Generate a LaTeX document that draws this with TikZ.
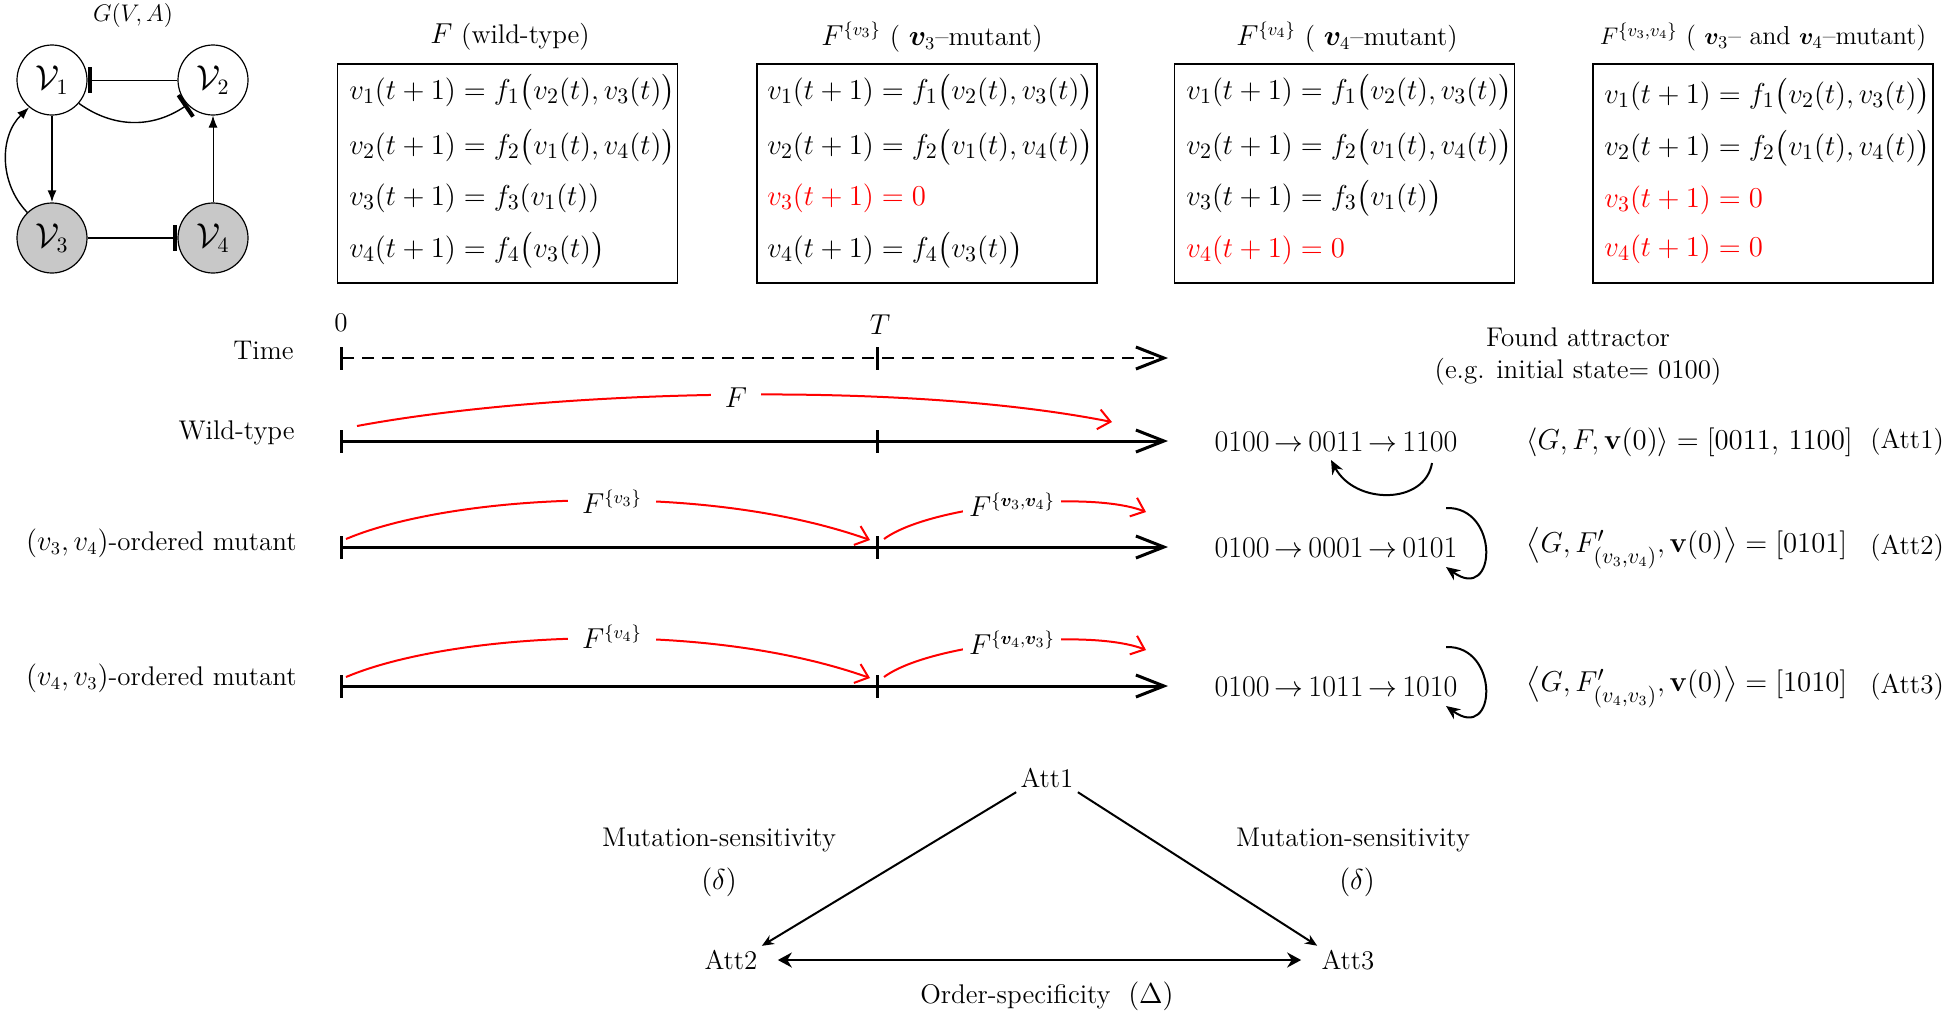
\documentclass[tikz,border=0pt]{standalone}
\usepackage{amsmath,amssymb,bm}
\usetikzlibrary{arrows.meta}
\definecolor{nodegray}{RGB}{200,200,200}
\definecolor{mred}{RGB}{255,0,0}
\begin{document}
\begin{tikzpicture}[x=0.5pt,y=-0.5pt,
  every node/.style={font=\fontsize{13.5}{16}\selectfont, inner sep=2pt},
  gnode/.style={circle, draw, line width=0.6pt, minimum size=35pt, inner sep=0pt, font=\fontsize{16}{19}\selectfont},
  mutnode/.style={gnode, fill=nodegray},
  act/.style={-{Latex[length=6pt,width=4.5pt]}},
  inh/.style={-{Bar[width=13pt,line width=2pt]}},
  eqbox/.style={draw, line width=0.7pt, minimum width=170pt, minimum height=109.5pt, inner sep=0pt},
  eq/.style={anchor=west, inner sep=0pt, font=\fontsize{15}{18}\selectfont},
  big/.style={font=\fontsize{15}{18}\selectfont},
  axis/.style={line width=1.5pt, {Bar[width=11.5pt]}-{Straight Barb[length=14pt,width=11pt]}},
  timeaxis/.style={line width=1pt, dash pattern=on 6pt off 4pt, {Bar[width=11.5pt,line width=1.5pt]}-{Straight Barb[length=14pt,width=11pt,line width=1.5pt]}},
  tick/.style={line width=1.5pt},
  redarc/.style={draw=mred, line width=1pt, -{Straight Barb[length=6pt,width=10pt]}},
  redlbl/.style={fill=white, inner xsep=7pt, inner ysep=1pt},
  loopar/.style={line width=1pt, -{Stealth[length=7pt,width=6pt]}},
  tri/.style={line width=1pt, -{Stealth[length=6pt,width=5pt]}},
  dbl/.style={line width=1.4pt, {Stealth[length=7pt,width=7.5pt]}-{Stealth[length=7pt,width=7.5pt]}}
]
\useasboundingbox (0,0) rectangle (1946,1013);

% ---------- graph G(V,A)
\node[font=\fontsize{13}{15}\selectfont] (gva) at (133,15) {$G(V,A)$};
\node[gnode] (v1) at (52,80) {$\mathcal{V}_1$};
\node[gnode] (v2) at (213,80) {$\mathcal{V}_2$};
\node[mutnode] (v3) at (52,238) {$\mathcal{V}_3$};
\node[mutnode] (v4) at (213,238) {$\mathcal{V}_4$};
\draw[inh, line width=0.5pt] (v2) -- (v1);
\draw[inh, line width=0.7pt] (v1.-41) to[bend right=35] (v2.-136);
\draw[act, line width=1pt] (v1) -- (v3);
\draw[act, line width=0.5pt] (v4) -- (v2);
\draw[act, line width=0.7pt] (v3.134) to[bend left=45] (v1.230);
\draw[inh, line width=0.9pt] (v3) -- (v4);

% ---------- boxes
\node[eqbox] (box1) at (507.5,173.5) {};
\node[eqbox] (box2) at (927,173.5) {};
\node[eqbox] (box3) at (1344.5,173.5) {};
\node[eqbox] (box4) at (1763,173.5) {};

\node (tit1) at (510,37) {$F$ (wild-type)};
\node (tit2) at (932,37) {$F^{\{v_3\}}$ ( $\bm{v}_3$--mutant)};
\node (tit3) at (1347,37) {$F^{\{v_4\}}$ ( $\bm{v}_4$--mutant)};
\node[font=\fontsize{13}{16}\selectfont] (tit4) at (1763,37) {$F^{\{v_3,v_4\}}$ ( $\bm{v}_3$-- and $\bm{v}_4$--mutant)};

\node[eq] (e11) at (349,92) {$v_1(t+1) = f_1\bigl(v_2(t),v_3(t)\bigr)$};
\node[eq] (e12) at (349,147) {$v_2(t+1) = f_2\bigl(v_1(t),v_4(t)\bigr)$};
\node[eq] (e13) at (349,198) {$v_3(t+1) = f_3(v_1(t))$};
\node[eq] (e14) at (349,250) {$v_4(t+1) = f_4\bigl(v_3(t)\bigr)$};

\node[eq] (e21) at (767,92) {$v_1(t+1) = f_1\bigl(v_2(t),v_3(t)\bigr)$};
\node[eq] (e22) at (767,147) {$v_2(t+1) = f_2\bigl(v_1(t),v_4(t)\bigr)$};
\node[eq, text=mred] (e23) at (767,198) {$v_3(t+1) = 0$};
\node[eq] (e24) at (767,250) {$v_4(t+1) = f_4\bigl(v_3(t)\bigr)$};

\node[eq] (e31) at (1186,92) {$v_1(t+1) = f_1\bigl(v_2(t),v_3(t)\bigr)$};
\node[eq] (e32) at (1186,147) {$v_2(t+1) = f_2\bigl(v_1(t),v_4(t)\bigr)$};
\node[eq] (e33) at (1186,198) {$v_3(t+1) = f_3\bigl(v_1(t)\bigr)$};
\node[eq, text=mred] (e34) at (1186,250) {$v_4(t+1) = 0$};

\node[eq] (e41) at (1604,96) {$v_1(t+1) = f_1\bigl(v_2(t),v_3(t)\bigr)$};
\node[eq] (e42) at (1604,148) {$v_2(t+1) = f_2\bigl(v_1(t),v_4(t)\bigr)$};
\node[eq, text=mred] (e43) at (1604,200) {$v_3(t+1) = 0$};
\node[eq, text=mred] (e44) at (1604,249) {$v_4(t+1) = 0$};

% ---------- timelines
\node[anchor=east] (ltime) at (298,350) {Time};
\node[anchor=east] (lwild) at (299,433) {Wild-type};
\node[anchor=east] (lm34) at (301,543) {$(v_3,v_4)$-ordered mutant};
\node[anchor=east] (lm43) at (301,678) {$(v_4,v_3)$-ordered mutant};
\node (zero) at (341,323) {0};
\node (tT) at (880,325) {$T$};

\coordinate (a0s) at (340,358); \coordinate (a0T) at (877,358); \coordinate (a0e) at (1168,358);
\coordinate (a1s) at (340,441); \coordinate (a1T) at (877,441); \coordinate (a1e) at (1168,441);
\coordinate (a2s) at (340,547); \coordinate (a2T) at (877,547); \coordinate (a2e) at (1168,547);
\coordinate (a3s) at (340,686); \coordinate (a3T) at (877,686); \coordinate (a3e) at (1168,686);

\draw[timeaxis] (a0s) -- (a0e);
\draw[axis] (a1s) -- (a1e);
\draw[axis] (a2s) -- (a2e);
\draw[axis] (a3s) -- (a3e);
\foreach \c in {a0T,a1T,a2T,a3T}
  \draw[tick] ([yshift=-5.75pt]\c) -- ([yshift=5.75pt]\c);

% red arcs
\coordinate (r1s) at (357,426); \coordinate (r1e) at (1112,422);
\draw[redarc] (r1s) .. controls (550,390) and (900,380) .. (r1e);
\node[redlbl] (lF) at (736,398) {$F$};

\coordinate (r2s) at (346,539); \coordinate (r2m) at (870,540);
\coordinate (r2n) at (884,539); \coordinate (r2e) at (1146,512);
\draw[redarc] (r2s) .. controls (450,495) and (700,480) .. (r2m);
\draw[redarc] (r2n) .. controls (930,505) and (1090,490) .. (r2e);
\node[redlbl] (lF3) at (612,502) {$F^{\{v_3\}}$};
\node[redlbl, inner xsep=3pt] (lF34) at (1012,505) {$F^{\{\bm{v}_3,\bm{v}_4\}}$};

\coordinate (r3s) at (346,677); \coordinate (r3m) at (870,678);
\coordinate (r3n) at (884,677); \coordinate (r3e) at (1146,650);
\draw[redarc] (r3s) .. controls (450,633) and (700,618) .. (r3m);
\draw[redarc] (r3n) .. controls (930,643) and (1090,628) .. (r3e);
\node[redlbl] (lF4) at (612,637) {$F^{\{v_4\}}$};
\node[redlbl, inner xsep=3pt] (lF43) at (1012,643) {$F^{\{\bm{v}_4,\bm{v}_3\}}$};

% ---------- attractors
\node (fa1) at (1578,337) {Found attractor};
\node (fa2) at (1578,372) {(e.g. initial state= 0100)};

\node[big] (s1) at (1336,442) {0100\,$\rightarrow$\,0011\,$\rightarrow$\,1100};
\node[big] (s2) at (1336,548) {0100\,$\rightarrow$\,0001\,$\rightarrow$\,0101};
\node[big] (s3) at (1336,687) {0100\,$\rightarrow$\,1011\,$\rightarrow$\,1010};

\coordinate (L1a) at (1432,463); \coordinate (L1b) at (1331,460);
\draw[loopar] (L1a) .. controls (1425,505) and (1355,505) .. (L1b);
\coordinate (L2a) at (1446,508); \coordinate (L2b) at (1446,567);
\draw[loopar] (L2a) .. controls (1500,506) and (1497,604) .. (L2b);
\coordinate (L3a) at (1446,647); \coordinate (L3b) at (1446,706);
\draw[loopar] (L3a) .. controls (1500,645) and (1497,743) .. (L3b);

\node[anchor=west, big] (x1) at (1522,442) {$\langle G,F,\mathbf{v}(0)\rangle = [0011,\,1100]$};
\node[anchor=west, big] (x2) at (1522,548) {$\bigl\langle G,F'_{(v_3,v_4)},\mathbf{v}(0)\bigr\rangle = [0101]$};
\node[anchor=west, big] (x3) at (1522,687) {$\bigl\langle G,F'_{(v_4,v_3)},\mathbf{v}(0)\bigr\rangle = [1010]$};
\node (n1) at (1907,442) {(Att1)};
\node (n2) at (1907,548) {(Att2)};
\node (n3) at (1907,687) {(Att3)};

% ---------- triangle
\node (att1) at (1047,778) {Att1};
\node (att2) at (731,960) {Att2};
\node (att3) at (1348,960) {Att3};
\draw[tri] (att1.south west) -- (att2.north east);
\draw[tri] (att1.south east) -- (att3.north west);
\draw[dbl, shorten <=8pt, shorten >=8pt] (att2) -- (att3);
\node (ms1) at (719,840) {Mutation-sensitivity};
\node (d1) at (719,882) {$(\delta)$};
\node (ms2) at (1353,840) {Mutation-sensitivity};
\node (d2) at (1357,882) {$(\delta)$};
\node (os) at (1047,996) {Order-specificity\ \ $(\Delta)$};
\end{tikzpicture}
\end{document}
